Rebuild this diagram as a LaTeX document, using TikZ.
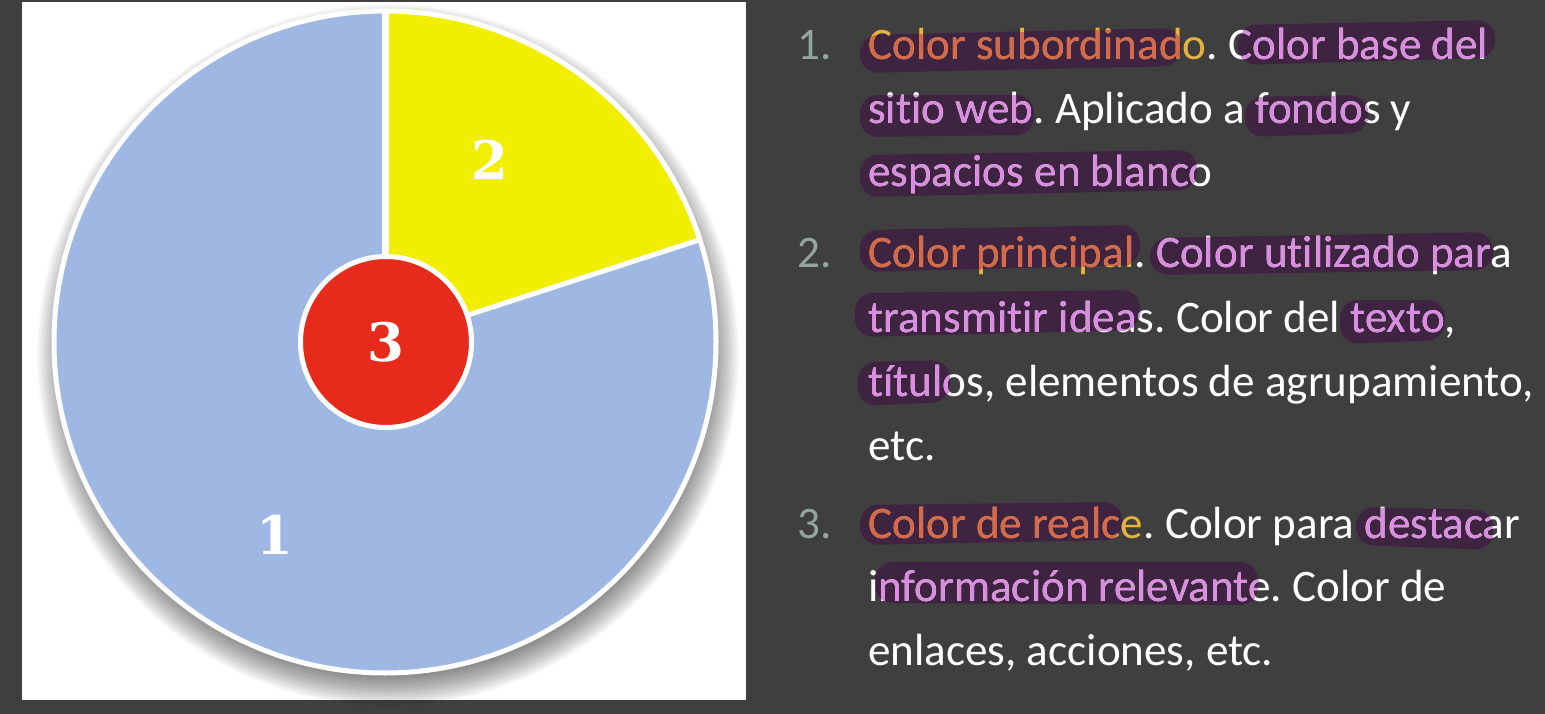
\documentclass[tikz,border=0pt]{standalone}
\usepackage{fontspec}
\setmainfont{Carlito}[RawFeature={-liga;-clig}]
\newfontfamily\slabfont{DejaVu Serif}
\frenchspacing

\definecolor{bgdark}{HTML}{3F3F3F}
\definecolor{pieblue}{HTML}{9FB8E3}
\definecolor{pieyellow}{HTML}{F2EE00}
\definecolor{piered}{HTML}{E62B1C}
\definecolor{hlpurple}{HTML}{3E2441}
\definecolor{hdbase}{HTML}{E6B33E}
\definecolor{hdhl}{HTML}{D4694D}
\definecolor{nmhl}{HTML}{DA8CE0}
\definecolor{numgray}{HTML}{93A59C}

\tikzset{
  txt/.style={anchor=base west, inner sep=0pt, font=\fontsize{45.1}{54}\selectfont},
  num/.style={txt, text=numgray},
  digit/.style={inner sep=0pt, text=white, font=\slabfont\bfseries\fontsize{53}{60}\selectfont},
}

% marker strokes behind the highlighted words
\newcommand\hlpaths{%
  (860,35) -- (1181,28) -- (1181,66) -- (860,73) -- cycle
  (1238,25) -- (1495,20) -- (1495,58) -- (1238,65) -- cycle
  (860,95) -- (1034,95) -- (1034,135) -- (860,137) -- cycle
  (1245,97) -- (1368,95) -- (1368,133) -- (1245,137) -- cycle
  (860,155) -- (1197,150) -- (1197,190) -- (860,197) -- cycle
  (860,230) -- (1140,225) -- (1140,265) -- (860,272) -- cycle
  (1150,238) -- (1493,232) -- (1493,270) -- (1150,275) -- cycle
  (855,293) -- (1140,290) -- (1140,330) -- (855,337) -- cycle
  (1340,300) -- (1445,300) -- (1445,340) -- (1340,344) -- cycle
  (858,362) -- (950,360) -- (950,402) -- (858,406) -- cycle
  (860,505) -- (1122,502) -- (1122,540) -- (860,545) -- cycle
  (1356,507) -- (1493,510) -- (1493,550) -- (1356,545) -- cycle
  (875,562) -- (1258,562) -- (1258,605) -- (875,603) -- cycle
}

% the body text, coloured through the colours hd and nm
\newcommand\bodylines{%
  \node[txt] (l1) at (868,60) {\color{hd}Color subordinado\color{nm}. Color base del};
  \node[txt] (l2) at (868,124) {\color{nm}sitio web. Aplicado a fondos y};
  \node[txt] (l3) at (868,187) {\color{nm}espacios en blanco};
  \node[txt] (l4) at (868,267) {\color{hd}Color principal\color{nm}. Color utilizado para};
  \node[txt] (l5) at (868,332) {\color{nm}transmitir ideas. Color del texto,};
  \node[txt] (l6) at (868,396) {\color{nm}títulos, elementos de agrupamiento,};
  \node[txt] (l7) at (868,460) {\color{nm}etc.};
  \node[txt] (l8) at (868,538) {\color{hd}Color de realce\color{nm}. Color para destacar};
  \node[txt] (l9) at (868,601) {\color{nm}información relevante. Color de};
  \node[txt] (l10) at (868,665) {\color{nm}enlaces, acciones, etc.};
}

\begin{document}
\begin{tikzpicture}[x=1pt,y=-1pt]
  \useasboundingbox (0,0) rectangle (1545,714);
  \fill[bgdark] (0,0) rectangle (1545,714);
  \fill[white] (22,2) rectangle (746,700);

  % soft shadow under the pie
  \foreach \k in {0,...,23} {
    \fill[black, opacity=0.026] (388,355) circle[radius=351-\k*1.6];
  }

  % pie chart
  \coordinate (c) at (385,342);
  \fill[pieblue] (c) circle[radius=331];
  \fill[pieyellow] (c) -- ++(-90:331) arc[start angle=-90, end angle=-18, radius=331] -- cycle;
  \draw[white, line width=7pt] (c) -- ++(-90:331);
  \draw[white, line width=5pt] (c) -- ++(-18:331);
  \draw[white, line width=5pt] (c) circle[radius=331];
  \node[circle, fill=piered, draw=white, line width=5pt, minimum size=171pt, inner sep=0pt,
        text=white, font=\slabfont\bfseries\fontsize{53}{60}\selectfont] (hub) at (386,342) {3};
  \node[digit] (n2) at (490,160) {2};
  \node[digit] (n1) at (275,535) {1};

  % list
  \fill[hlpurple, rounded corners=18pt] \hlpaths;
  \node[num] (k1) at (797,60) {1.};
  \node[num] (k2) at (797,267) {2.};
  \node[num] (k3) at (797,538) {3.};
  \begin{scope}
    \colorlet{hd}{hdbase}\colorlet{nm}{white}
    \bodylines
  \end{scope}
  \begin{scope}
    \colorlet{hd}{hdhl}\colorlet{nm}{nmhl}
    \clip[rounded corners=18pt] \hlpaths;
    \bodylines
  \end{scope}
\end{tikzpicture}
\end{document}
